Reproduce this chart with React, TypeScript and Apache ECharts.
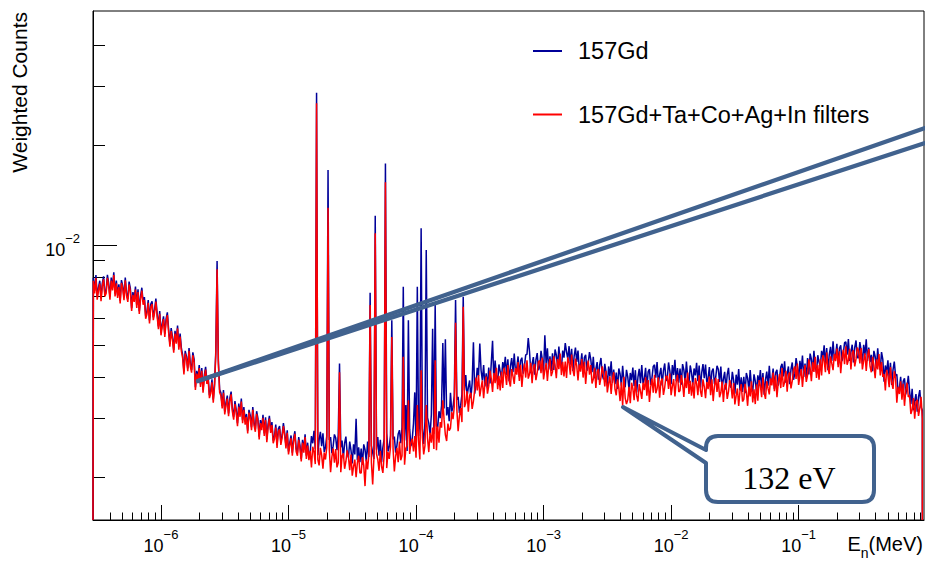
import React, { useEffect, useRef } from "react";
import * as echarts from "echarts";

// Histogram binning: log10(E / MeV) of first bin centre and bin width in decades
const logEnergyStart = -6.53;
const logEnergyStep = 0.01;
// counts are stored in units of 1e-5
const countsUnit = 1e-5;

const gd157: number[] = [
  797, 729, 812, 699, 745, 781, 692, 767, 805, 714,
  729, 813, 767, 699, 798, 745, 828, 714, 782, 707,
  762, 680, 784, 755, 696, 799, 717, 687, 776, 740,
  646, 722, 687, 750, 660, 736, 632, 702, 744, 674,
  697, 612, 631, 683, 593, 664, 677, 606, 639, 690,
  622, 569, 633, 546, 580, 610, 540, 599, 627, 557,
  504, 562, 530, 483, 552, 515, 572, 494, 541, 489,
  466, 416, 480, 462, 425, 490, 440, 421, 475, 453,
  373, 418, 398, 435, 381, 426, 366, 406, 430, 390,
  401, 353, 364, 394, 342, 383, 480, 895, 449, 367,
  359, 328, 366, 315, 336, 352, 311, 346, 362, 321,
  304, 339, 319, 291, 333, 310, 345, 297, 325, 294,
  310, 276, 319, 307, 283, 325, 292, 279, 316, 301,
  265, 297, 283, 308, 271, 303, 260, 289, 306, 277,
  293, 258, 266, 288, 250, 279, 285, 255, 268, 291,
  272, 249, 277, 239, 254, 267, 237, 262, 275, 244,
  237, 264, 249, 227, 259, 242, 269, 232, 254, 230,
  238, 266, 253, 276, 243, 2874, 233, 259, 274, 248,
  271, 238, 246, 266, 1682, 259, 264, 236, 248, 269,
  263, 241, 268, 440, 246, 258, 228, 253, 265, 236,
  229, 256, 241, 220, 251, 234, 300, 225, 246, 222,
  244, 218, 251, 242, 223, 256, 230, 718, 249, 237,
  227, 1225, 242, 264, 232, 259, 222, 246, 261, 1762,
  272, 239, 247, 267, 594, 260, 265, 237, 249, 270,
  277, 253, 282, 749, 258, 330, 240, 594, 279, 248,
  260, 290, 360, 249, 749, 266, 295, 1123, 279, 252,
  294, 966, 302, 291, 268, 308, 560, 270, 660, 285,
  283, 316, 301, 328, 507, 322, 520, 307, 325, 295,
  359, 315, 325, 352, 683, 342, 349, 312, 329, 355,
  699, 365, 406, 350, 372, 391, 346, 384, 510, 357,
  383, 427, 403, 505, 419, 391, 435, 375, 411, 371,
  428, 383, 441, 515, 391, 449, 404, 387, 437, 416,
  397, 444, 423, 461, 406, 453, 389, 431, 457, 414,
  471, 414, 427, 462, 401, 449, 458, 410, 432, 467,
  469, 525, 477, 411, 438, 460, 407, 451, 473, 420,
  431, 480, 453, 413, 535, 440, 489, 422, 462, 418,
  472, 421, 485, 467, 431, 495, 444, 426, 481, 458,
  507, 477, 454, 496, 436, 487, 418, 464, 491, 445,
  481, 423, 436, 472, 409, 458, 467, 418, 441, 476,
  453, 414, 461, 397, 423, 444, 393, 436, 457, 406,
  394, 439, 414, 377, 431, 402, 447, 385, 422, 381,
  413, 369, 425, 409, 377, 433, 389, 373, 421, 401,
  368, 412, 392, 428, 376, 420, 360, 400, 424, 384,
  435, 383, 395, 427, 371, 415, 423, 379, 399, 431,
  436, 399, 444, 382, 407, 427, 378, 419, 440, 390,
  397, 443, 418, 381, 435, 406, 451, 389, 426, 385,
  425, 380, 438, 421, 388, 446, 401, 384, 434, 413,
  380, 425, 405, 442, 389, 434, 372, 413, 438, 397,
  437, 385, 397, 429, 373, 417, 425, 381, 401, 433,
  423, 387, 431, 371, 395, 415, 367, 407, 427, 379,
  372, 415, 392, 357, 407, 380, 423, 365, 400, 361,
  401, 358, 412, 397, 366, 420, 377, 362, 408, 389,
  362, 405, 385, 420, 370, 412, 354, 393, 416, 377,
  433, 381, 393, 425, 369, 413, 421, 377, 397, 429,
  439, 402, 447, 385, 410, 431, 381, 422, 443, 393,
  410, 457, 431, 393, 448, 418, 465, 401, 440, 397,
  457, 408, 471, 453, 417, 480, 431, 413, 466, 444,
  430, 480, 457, 499, 439, 490, 420, 467, 494, 448,
  513, 451, 466, 504, 437, 489, 499, 447, 470, 508,
  511, 468, 521, 448, 477, 501, 443, 492, 516, 458,
  458, 510, 482, 439, 501, 467, 520, 448, 491, 444,
  467, 417, 480, 462, 426, 489, 439, 421, 476, 453,
  388, 434, 413, 450, 396, 442, 379, 421, 446, 404,
  408, 359, 370, 401, 348, 389, 397, 355, 374, 404,
  363, 332, 369, 318, 339, 356, 315, 349, 366, 325,
  318,
];

const gd157Filtered: number[] = [
  781, 715, 796, 685, 730, 766, 678, 752, 789, 700,
  715, 797, 752, 685, 782, 730, 812, 700, 767, 693,
  747, 667, 769, 740, 682, 783, 703, 674, 761, 725,
  633, 708, 674, 735, 647, 722, 620, 688, 729, 661,
  683, 600, 619, 670, 581, 651, 664, 594, 626, 676,
  610, 558, 621, 535, 569, 598, 529, 587, 615, 546,
  494, 551, 520, 474, 541, 505, 561, 484, 530, 479,
  457, 408, 471, 453, 417, 480, 431, 413, 466, 444,
  366, 410, 390, 426, 374, 418, 359, 398, 422, 382,
  393, 346, 357, 386, 335, 375, 470, 845, 440, 360,
  352, 322, 359, 309, 329, 345, 305, 339, 355, 315,
  298, 332, 313, 285, 326, 304, 338, 291, 319, 288,
  304, 271, 313, 301, 277, 319, 286, 274, 310, 295,
  260, 291, 277, 302, 266, 297, 255, 283, 300, 272,
  287, 253, 261, 282, 245, 274, 279, 250, 263, 285,
  267, 244, 272, 234, 249, 262, 232, 257, 270, 239,
  232, 259, 244, 223, 254, 237, 264, 227, 249, 225,
  240, 214, 247, 238, 219, 2672, 226, 217, 245, 233,
  212, 237, 226, 246, 1295, 242, 207, 230, 244, 221,
  243, 214, 221, 414, 207, 232, 236, 212, 223, 241,
  230, 210, 234, 202, 215, 226, 200, 221, 232, 206,
  206, 230, 217, 188, 226, 211, 234, 660, 221, 190,
  229, 1085, 235, 226, 209, 240, 215, 206, 233, 1545,
  213, 238, 227, 247, 529, 243, 208, 231, 245, 222,
  256, 225, 232, 461, 218, 244, 249, 341, 235, 254,
  261, 239, 266, 229, 330, 256, 226, 420, 263, 234,
  249, 330, 262, 238, 272, 254, 282, 243, 450, 241,
  284, 254, 293, 282, 341, 298, 268, 257, 290, 276,
  281, 314, 299, 326, 583, 320, 275, 305, 323, 293,
  652, 325, 335, 363, 315, 352, 359, 321, 339, 366,
  399, 365, 406, 350, 372, 391, 346, 384, 402, 357,
  376, 419, 396, 361, 412, 384, 427, 368, 404, 365,
  415, 371, 427, 411, 379, 435, 391, 375, 423, 403,
  382, 427, 407, 444, 390, 436, 374, 415, 440, 399,
  450, 396, 409, 442, 384, 430, 438, 392, 413, 446,
  449, 411, 458, 394, 420, 441, 390, 432, 454, 403,
  415, 462, 436, 397, 454, 423, 471, 406, 445, 402,
  446, 398, 459, 442, 407, 468, 420, 403, 455, 433,
  391, 437, 416, 454, 399, 445, 382, 424, 449, 407,
  435, 383, 395, 427, 371, 415, 423, 379, 399, 431,
  410, 375, 418, 360, 383, 402, 356, 395, 414, 368,
  353, 394, 372, 339, 386, 328, 401, 346, 332, 342,
  374, 334, 385, 370, 341, 392, 352, 338, 381, 363,
  344, 385, 366, 400, 352, 392, 337, 374, 396, 359,
  407, 358, 369, 400, 347, 388, 396, 354, 373, 403,
  403, 369, 410, 353, 376, 395, 350, 388, 407, 361,
  364, 406, 383, 349, 398, 371, 413, 356, 390, 352,
  386, 345, 398, 383, 353, 405, 364, 349, 394, 375,
  346, 387, 368, 402, 353, 394, 339, 376, 398, 361,
  395, 348, 359, 388, 337, 377, 384, 344, 362, 392,
  377, 345, 384, 331, 352, 370, 328, 363, 381, 338,
  343, 382, 361, 328, 375, 350, 389, 336, 368, 332,
  381, 340, 392, 377, 348, 400, 359, 344, 389, 370,
  355, 397, 378, 413, 363, 405, 348, 386, 409, 371,
  426, 374, 386, 418, 362, 406, 414, 370, 390, 422,
  431, 395, 440, 379, 403, 423, 374, 415, 435, 387,
  406, 453, 427, 389, 444, 415, 461, 398, 436, 393,
  453, 405, 466, 449, 414, 475, 427, 409, 462, 440,
  420, 470, 447, 488, 429, 479, 411, 457, 484, 438,
  496, 436, 450, 487, 422, 473, 482, 431, 454, 491,
  481, 440, 490, 422, 449, 472, 418, 463, 486, 431,
  414, 461, 435, 397, 453, 422, 470, 405, 444, 401,
  409, 365, 421, 405, 373, 429, 385, 369, 417, 397,
  335, 374, 356, 389, 342, 382, 328, 364, 385, 349,
  352, 310, 319, 346, 300, 336, 342, 306, 323, 349,
  300,
];

const seriesNames = ["157Gd", "157Gd+Ta+Co+Ag+In filters"];
const seriesColors = ["#000099", "#ff0000"];

// axis ranges in log10 units
const xLogRange = [-6.533, -0.017];
const yLogRange = [-2.828, -1.295];
const xMajorExponents = [-6, -5, -4, -3, -2, -1];
const yMajorExponents = [-2];

const yTitle = "Weighted Counts";
const calloutLabel = "132 eV";

const SANS = "'Liberation Sans', Arial, Helvetica, sans-serif";
const SERIF = "'Liberation Serif', 'Times New Roman', serif";
const ANNOT = "#41628e";

function minorLogTicks(lo: number, hi: number): number[] {
  const out: number[] = [];
  for (let n = Math.floor(lo); n <= Math.ceil(hi); n++) {
    for (let k = 2; k <= 9; k++) {
      const v = n + Math.log10(k);
      if (v > lo + 0.015 && v < hi - 0.01) out.push(v);
    }
  }
  return out;
}

function toPoints(vals: number[]): number[][] {
  const pts: number[][] = [[xLogRange[0], yLogRange[0]]];
  vals.forEach((v, i) => {
    pts.push([logEnergyStart + i * logEnergyStep, Math.log10(v * countsUnit)]);
  });
  pts.push([logEnergyStart + (vals.length - 1) * logEnergyStep, yLogRange[0]]);
  return pts;
}

const powLabel = (v: number) => `{b|10}{s|${v < 0 ? "\u2212" + -v : v}}`;
const powRich = {
  b: { fontSize: 18, fontFamily: SANS, color: "#000", lineHeight: 27, verticalAlign: "bottom" },
  s: { fontSize: 13, fontFamily: SANS, color: "#000", lineHeight: 13, verticalAlign: "top" },
};

let shapeRegistered = false;
function registerCallout() {
  if (shapeRegistered) return;
  const d =
    "M 718 436 L 862 436 Q 874 436 874 448 L 874 490 Q 874 502 862 502 L 718 502 Q 706 502 706 490 L 706 463 L 623 407 L 706 450 L 706 448 Q 706 436 718 436 Z";
  echarts.graphic.registerShape("callout", echarts.graphic.extendPath(d, {}));
  shapeRegistered = true;
}

export default function App() {
  const ref = useRef<HTMLDivElement>(null);

  useEffect(() => {
    if (!ref.current) return;
    registerCallout();
    const chart = echarts.init(ref.current, undefined, { renderer: "svg" });

    const xMinor = minorLogTicks(xLogRange[0], xLogRange[1]);
    const yMinor = minorLogTicks(yLogRange[0], yLogRange[1]);

    const baseAxis = {
      type: "value",
      splitLine: { show: false },
    };

    const option: any = {
      animation: false,
      backgroundColor: "#ffffff",
      grid: {
        left: 93,
        right: 1,
        top: 11,
        bottom: 44,
        show: true,
        borderColor: "#000",
        borderWidth: 1,
        backgroundColor: "transparent",
      },
      legend: {
        data: seriesNames,
        orient: "vertical",
        left: 533,
        top: 39,
        padding: 0,
        itemWidth: 29,
        itemHeight: 2,
        itemGap: 39.5,
        icon: "rect",
        selectedMode: false,
        textStyle: {
          fontSize: 23.5,
          lineHeight: 23.5,
          color: "#000",
          fontFamily: SANS,
          padding: [0, 0, 0, 11],
        },
      },
      xAxis: [
        {
          ...baseAxis,
          min: xLogRange[0],
          max: xLogRange[1],
          position: "bottom",
          axisLine: { show: true, onZero: false, lineStyle: { color: "#000", width: 1 } },
          axisTick: {
            show: true,
            inside: true,
            length: 15,
            customValues: xMajorExponents,
            lineStyle: { color: "#000", width: 1 },
          },
          axisLabel: {
            show: true,
            customValues: xMajorExponents,
            formatter: powLabel,
            rich: powRich,
            margin: 8,
          },
        },
        {
          ...baseAxis,
          min: xLogRange[0],
          max: xLogRange[1],
          position: "bottom",
          axisLine: { show: false, onZero: false },
          axisTick: {
            show: true,
            inside: true,
            length: 7.5,
            customValues: xMinor,
            lineStyle: { color: "#000", width: 1 },
          },
          axisLabel: { show: false },
        },
      ],
      yAxis: [
        {
          ...baseAxis,
          min: yLogRange[0],
          max: yLogRange[1],
          position: "left",
          axisLine: { show: true, onZero: false, lineStyle: { color: "#000", width: 1 } },
          axisTick: {
            show: true,
            inside: true,
            length: 24,
            customValues: yMajorExponents,
            lineStyle: { color: "#000", width: 1 },
          },
          axisLabel: {
            show: true,
            customValues: yMajorExponents,
            formatter: powLabel,
            rich: powRich,
            margin: 13,
          },
        },
        {
          ...baseAxis,
          min: yLogRange[0],
          max: yLogRange[1],
          position: "left",
          axisLine: { show: false, onZero: false },
          axisTick: {
            show: true,
            inside: true,
            length: 12,
            customValues: yMinor,
            lineStyle: { color: "#000", width: 1 },
          },
          axisLabel: { show: false },
        },
      ],
      series: [
        {
          type: "line",
          name: seriesNames[0],
          data: toPoints(gd157),
          xAxisIndex: 0,
          yAxisIndex: 0,
          symbol: "none",
          showSymbol: false,
          lineStyle: { color: seriesColors[0], width: 1.5 },
          itemStyle: { color: seriesColors[0] },
          z: 2,
        },
        {
          type: "line",
          name: seriesNames[1],
          data: toPoints(gd157Filtered),
          xAxisIndex: 0,
          yAxisIndex: 0,
          symbol: "none",
          showSymbol: false,
          lineStyle: { color: seriesColors[1], width: 1.5 },
          itemStyle: { color: seriesColors[1] },
          z: 3,
        },
      ],
      graphic: [
        {
          type: "text",
          x: 19,
          y: 12,
          rotation: Math.PI / 2,
          z: 20,
          style: {
            text: yTitle,
            fontSize: 21,
            fontFamily: SANS,
            fill: "#000",
            align: "right",
            verticalAlign: "middle",
          },
        },
        {
          type: "text",
          x: 923,
          y: 547,
          z: 20,
          style: {
            text: "{a|E}{n|n}{a|(MeV)}",
            align: "right",
            verticalAlign: "middle",
            rich: {
              a: { fontSize: 20, fontFamily: SANS, fill: "#000", lineHeight: 26, verticalAlign: "top" },
              n: { fontSize: 14, fontFamily: SANS, fill: "#000", lineHeight: 14, verticalAlign: "bottom" },
            },
          },
        },
        {
          type: "line",
          z: 30,
          shape: { x1: 198, y1: 381, x2: 925, y2: 128 },
          style: { stroke: ANNOT, lineWidth: 4.3, lineCap: "round" },
        },
        {
          type: "line",
          z: 30,
          shape: { x1: 198, y1: 381, x2: 925, y2: 143 },
          style: { stroke: ANNOT, lineWidth: 4.3, lineCap: "round" },
        },
        {
          type: "callout",
          z: 30,
          x: 0,
          y: 0,
          style: { fill: "#ffffff", stroke: ANNOT, lineWidth: 4, lineJoin: "round" },
        },
        {
          type: "text",
          x: 789,
          y: 478,
          z: 31,
          style: {
            text: calloutLabel,
            fontSize: 32,
            fontFamily: SERIF,
            fill: "#000",
            align: "center",
            verticalAlign: "middle",
          },
        },
      ],
    };

    chart.setOption(option);
    return () => chart.dispose();
  }, []);

  return (
    <div
      ref={ref}
      style={{ position: "fixed", left: 0, top: 0, width: 925, height: 564, background: "#fff" }}
    />
  );
}
